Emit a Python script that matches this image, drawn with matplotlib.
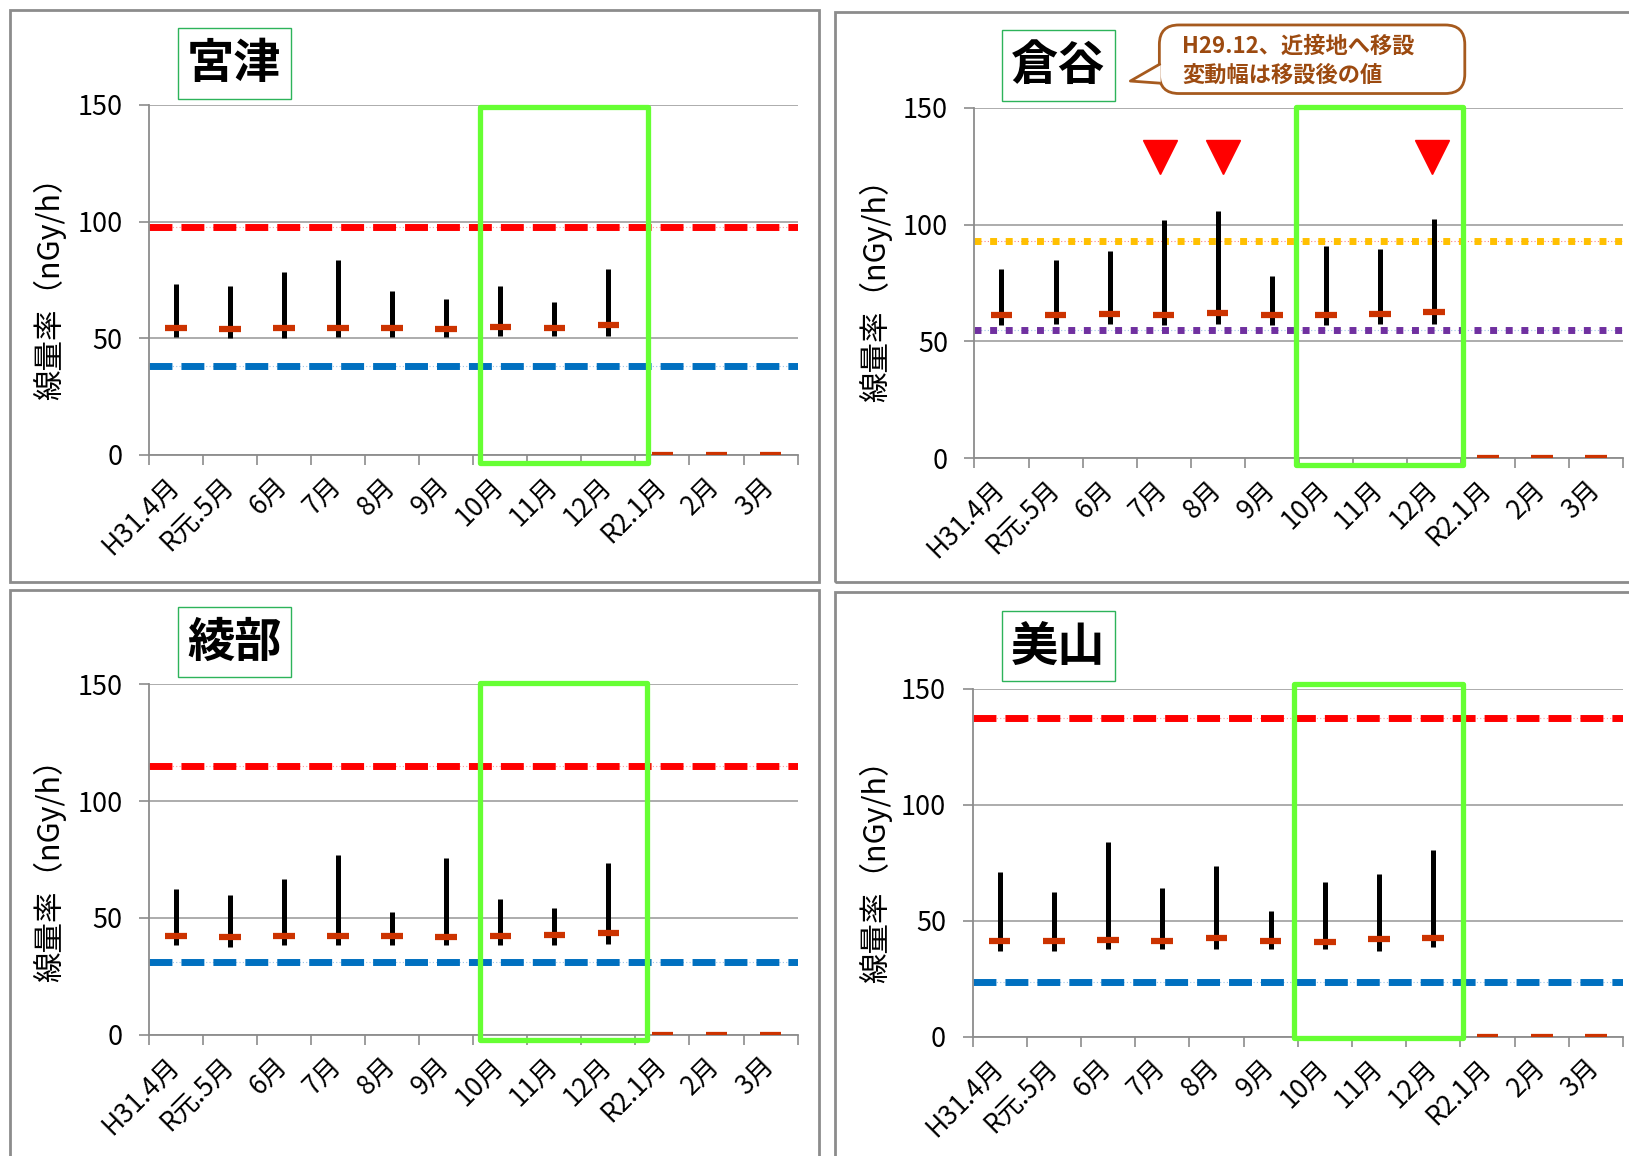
import matplotlib.pyplot as plt
from matplotlib.patches import Rectangle, FancyBboxPatch, Polygon
from matplotlib.lines import Line2D

plt.rcParams['font.family'] = ['Noto Sans CJK JP', 'DejaVu Sans']

# 月ラベル
months = ['H31.4月', 'R元.5月', '6月', '7月', '8月', '9月',
          '10月', '11月', '12月', 'R2.1月', '2月', '3月']

# 宮津
miyazu_max = [73.2, 72.5, 78.2, 83.7, 70.3, 67.0, 72.4, 65.7, 79.7]
miyazu_min = [50.7, 50.0, 50.0, 50.7, 50.7, 50.7, 50.8, 50.8, 50.8]
miyazu_mean = [54.4, 53.9, 54.4, 54.4, 54.4, 53.9, 54.8, 54.4, 55.7, 0, 0, 0]
miyazu_upper = 97.8
miyazu_lower = 37.9

# 倉谷
kuratani_max = [80.8, 84.7, 88.6, 101.9, 105.8, 78.0, 90.8, 89.6, 102.4]
kuratani_min = [57.1, 57.5, 57.5, 57.1, 57.5, 57.1, 57.1, 57.5, 57.5]
kuratani_mean = [61.1, 61.1, 61.7, 61.1, 62.2, 61.1, 61.4, 61.9, 62.5, 0, 0, 0]
kuratani_upper = 93.0
kuratani_lower = 55.0
kuratani_marks = [3.43, 4.6, 8.47]   # ▼ の位置 (7月, 8月, 12月)

# 綾部
ayabe_max = [62.3, 59.9, 66.7, 76.8, 52.7, 75.7, 58.2, 54.4, 73.5]
ayabe_min = [38.2, 37.5, 38.2, 38.2, 38.2, 38.2, 38.2, 38.2, 38.8]
ayabe_mean = [42.0, 41.6, 42.0, 42.3, 42.3, 41.6, 42.0, 42.6, 43.7, 0, 0, 0]
ayabe_upper = 115.0
ayabe_lower = 30.9

# 美山
miyama_max = [70.8, 62.5, 83.9, 64.2, 73.7, 54.1, 66.6, 69.9, 80.6]
miyama_min = [36.9, 36.9, 37.7, 37.7, 37.7, 37.7, 37.7, 36.9, 38.5]
miyama_mean = [41.0, 41.0, 41.6, 41.3, 42.4, 41.0, 40.7, 42.1, 42.7, 0, 0, 0]
miyama_upper = 137.5
miyama_lower = 23.5

fig = plt.figure(figsize=(16.29, 11.56), dpi=100)
fig.patch.set_facecolor('white')

GRAY = '#8C8C8C'
GRID = '#A6A6A6'
GREEN = '#66FF33'
ORANGE = '#CC3300'


def dashed(ax, y, color, thin):
    ax.axhline(y, color=thin, lw=0.8, ls=(0, (1, 2)), zorder=1)
    ax.axhline(y, color=color, lw=5, dashes=(3.3, 1.3), zorder=2)


def dotted(ax, y, color, thin):
    ax.axhline(y, color=thin, lw=0.8, ls=(0, (1, 2)), zorder=1)
    ax.axhline(y, color=color, lw=5, dashes=(1.0, 1.25), zorder=2)


def panel(rect, maxv, minv, meanv, green_box):
    ax = fig.add_axes(rect)
    xs = [i + 0.5 for i in range(len(maxv))]
    xm = [i + 0.5 for i in range(len(meanv))]
    ax.vlines(xs, minv, maxv, color='black', lw=3.6, zorder=4)
    ax.hlines(meanv, [x - 0.2 for x in xm], [x + 0.2 for x in xm],
              color=ORANGE, lw=4.5, zorder=5)
    ax.set_xlim(0, 12)
    ax.set_ylim(0, 150)
    ax.set_yticks([0, 50, 100, 150])
    ax.set_xticks(range(13))
    ax.set_xticklabels([])
    ax.set_xticks(xm, minor=True)
    ax.set_xticklabels(months, minor=True, rotation=45, ha='right',
                       va='center', rotation_mode='anchor', fontsize=19)
    ax.tick_params(axis='x', which='minor', length=0, pad=20)
    ax.tick_params(axis='x', which='major', length=7, color=GRAY, width=1.2)
    ax.tick_params(axis='y', length=7, color=GRAY, width=1.2,
                   labelsize=19.5, pad=12)
    ax.grid(axis='y', color=GRID, lw=1.3, zorder=0)
    ax.set_axisbelow(True)
    for s in ['top', 'right']:
        ax.spines[s].set_visible(False)
    for s in ['left', 'bottom']:
        ax.spines[s].set_color(GRAY)
        ax.spines[s].set_linewidth(1.3)
    x0, x1, y0, y1 = green_box
    ax.add_patch(Rectangle((x0, y0), x1 - x0, y1 - y0, fill=False,
                           ec=GREEN, lw=3.8, joinstyle='round',
                           clip_on=False, zorder=10))
    return ax


def frame(x, y, w, h):
    fig.add_artist(Rectangle((x, y), w, h, transform=fig.transFigure,
                             fill=False, ec=GRAY, lw=2))


def title(x, y, text):
    fig.add_artist(Rectangle((x, y), 0.0695, 0.0611,
                             transform=fig.transFigure, fill=False,
                             ec='#2DB35A', lw=1.0))
    fig.text(x + 0.0348, y + 0.0300, text, fontsize=34, fontweight='bold',
             ha='center', va='center')


def ylab(x, y):
    fig.text(x, y, '線量率（nGy/h）', rotation=90, fontsize=22,
             ha='center', va='center')


# panel frames
frame(0.0064, 0.4969, 0.4962, 0.4941)
frame(0.5128, 0.4969, 0.50, 0.4923)
frame(0.0064, -0.01, 0.4962, 0.4997)
frame(0.5128, -0.01, 0.50, 0.4979)

# 宮津
ax1 = panel([0.0915, 0.6065, 0.3981, 0.3028],
            miyazu_max, miyazu_min, miyazu_mean, (6.12, 9.23, -3.5, 149))
dashed(ax1, miyazu_upper, '#FF0000', '#FF9999')
dashed(ax1, miyazu_lower, '#0070C0', '#9DC3E6')
title(0.1091, 0.9146, '宮津')
ylab(0.0306, 0.757)

# 倉谷
ax2 = panel([0.5982, 0.6038, 0.3981, 0.3028],
            kuratani_max, kuratani_min, kuratani_mean, (5.95, 9.04, -3.0, 150.3))
dotted(ax2, kuratani_upper, '#FFC000', '#FF8080')
dotted(ax2, kuratani_lower, '#7030A0', '#9DC3E6')
ax2.plot(kuratani_marks, [129] * len(kuratani_marks), ls='none', marker='v',
         ms=24, color='#FF0000', mec='#FF0000', clip_on=False, zorder=6)
title(0.6148, 0.9128, '倉谷')
ylab(0.5376, 0.755)

# 吹き出し
BROWN = '#A65A1E'
fig.add_artist(FancyBboxPatch((0.7117, 0.9191), 0.1875, 0.0593,
                              boxstyle='round,pad=0,rounding_size=0.012',
                              transform=fig.transFigure, fc='white',
                              ec=BROWN, lw=2, mutation_aspect=1.4))
fig.add_artist(Polygon([(0.7125, 0.9443), (0.6939, 0.9299), (0.7125, 0.9281)],
                       closed=True, transform=fig.transFigure, fc='white',
                       ec='none', zorder=3))
fig.add_artist(Line2D([0.7117, 0.6939, 0.7117], [0.9443, 0.9299, 0.9281],
                      transform=fig.transFigure, color=BROWN, lw=2, zorder=4))
fig.text(0.7258, 0.9596, 'H29.12、近接地へ移設', fontsize=16,
         fontweight='bold', color='#9C4A10', va='center', zorder=5)
fig.text(0.7258, 0.9353, '変動幅は移設後の値', fontsize=16,
         fontweight='bold', color='#9C4A10', va='center', zorder=5)

# 綾部
ax3 = panel([0.0915, 0.1051, 0.3981, 0.3028],
            ayabe_max, ayabe_min, ayabe_mean, (6.12, 9.22, -2.5, 150.8))
dashed(ax3, ayabe_upper, '#FF0000', '#FF9999')
dashed(ax3, ayabe_lower, '#0070C0', '#9DC3E6')
title(0.1091, 0.4142, '綾部')
ylab(0.0306, 0.254)

# 美山
ax4 = panel([0.597, 0.1033, 0.3993, 0.301],
            miyama_max, miyama_min, miyama_mean, (5.93, 9.04, -0.8, 152.2))
dashed(ax4, miyama_upper, '#FF0000', '#FF9999')
dashed(ax4, miyama_lower, '#0070C0', '#9DC3E6')
title(0.6148, 0.4106, '美山')
ylab(0.5376, 0.2525)

fig.savefig('out.png', dpi=100, facecolor='white')
